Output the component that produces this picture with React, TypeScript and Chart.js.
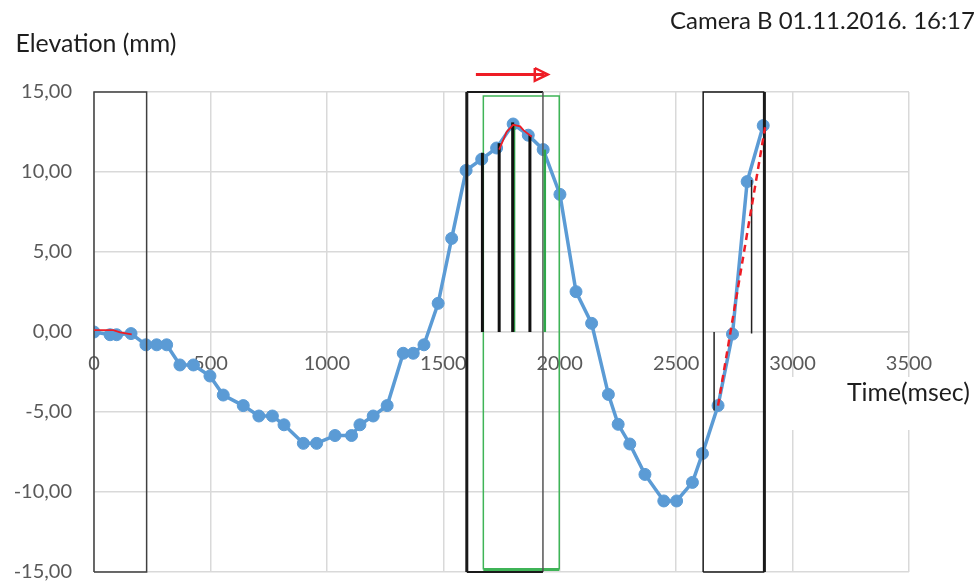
import { useEffect, useRef } from 'react';
import { Chart, registerables } from 'chart.js';

Chart.register(...registerables);

// ---- texts ----
const chartTitle = 'Camera B 01.11.2016. 16:17';
const yAxisTitle = 'Elevation (mm)';
const xAxisTitle = 'Time(msec)';

// ---- measured series ----
const timeMs = [0, 69, 97, 159, 223, 269, 312, 369, 427, 498, 555, 641, 708, 766, 816, 899, 956, 1035, 1106, 1142, 1199, 1259, 1328, 1371, 1417, 1478, 1536, 1598, 1665, 1729, 1800, 1865, 1929, 2001, 2070, 2137, 2209, 2251, 2301, 2366, 2447, 2502, 2570, 2613, 2680, 2742, 2805, 2874];
const elevationMm = [0, -0.17, -0.17, -0.1, -0.8, -0.8, -0.8, -2.06, -2.06, -2.75, -3.94, -4.6, -5.25, -5.25, -5.8, -6.96, -6.96, -6.47, -6.47, -5.8, -5.25, -4.6, -1.33, -1.33, -0.8, 1.79, 5.85, 10.1, 10.8, 11.5, 13.0, 12.3, 11.4, 8.6, 2.52, 0.54, -3.9, -5.77, -7.0, -8.9, -10.56, -10.56, -9.4, -7.6, -4.6, -0.13, 9.4, 12.9];

// ---- ticks ----
const xTickValues = [0, 500, 1000, 1500, 2000, 2500, 3000, 3500];
const xTickLabels = ['0', '500', '1000', '1500', '2000', '2500', '3000', '3500'];
const yTickValues = [-15, -10, -5, 0, 5, 10, 15];
const yTickLabels = ['-15,00', '-10,00', '-5,00', '0,00', '5,00', '10,00', '15,00'];

// ---- annotation overlays (data coordinates) ----
const boxStartMs = [0, 1601, 2616];
const boxEndMs = [226, 1928, 2879];
const boxTopMm = [15, 15, 15];
const boxBottomMm = [-15, -15, -15];
const greenBoxMs = [1672, 1998];
const greenBoxMm = [-14.85, 14.75];
const blackBarMs = [1668, 1740, 1798, 1872];
const blackBarTopMm = [11.2, 11.8, 13.1, 12.3];
const greenBarMs = [1804, 1936];
const greenBarTopMm = [13.0, 11.4];
const thinBarMs = [2663, 2824];
const thinBarFromMm = [0, 9.5];
const thinBarToMm = [-4.9, -0.1];
const redPath1Ms = [0, 83, 112, 162];
const redPath1Mm = [0.12, 0.12, -0.02, -0.15];
const redPath2Ms = [1740, 1772, 1800, 1830, 1845, 1880];
const redPath2Mm = [11.4, 12.5, 12.95, 12.85, 12.6, 12.2];
const redDashMs = [2680, 2882];
const redDashMm = [-4.6, 12.8];
const arrowMs = [1640, 1935];
const arrowMm = [16.1, 16.1];
const arrowHeadMs = [1893, 1949, 1893, 1893];
const arrowHeadMm = [16.5, 16.1, 15.7, 16.5];

const FONT = 'Lato, "Liberation Sans", sans-serif';
const BLUE = '#5b9bd5';
const RED = '#ee1c25';
const GREEN = '#3fb457';

const pts = (xs: number[], ys: number[]) => xs.map((x, i) => ({ x, y: ys[i] }));

const lineDs = (data: any[], color: string, width: number, order: number, extra: any = {}) => ({
  data,
  showLine: true,
  borderColor: color,
  backgroundColor: color,
  borderWidth: width,
  pointRadius: 0,
  pointHoverRadius: 0,
  tension: 0,
  clip: false,
  order,
  ...extra,
});

function buildDatasets() {
  const ds: any[] = [];
  // main series (drawn first, below everything)
  ds.push({
    data: pts(timeMs, elevationMm),
    showLine: true,
    borderColor: BLUE,
    backgroundColor: BLUE,
    borderWidth: 3.5,
    pointRadius: 6,
    pointBorderWidth: 1,
    pointBorderColor: BLUE,
    pointBackgroundColor: BLUE,
    pointHoverRadius: 6,
    tension: 0,
    order: 100,
  });
  // green rectangle
  const [gx0, gx1] = greenBoxMs;
  const [gy0, gy1] = greenBoxMm;
  ds.push(
    lineDs(
      [
        { x: gx0, y: gy0 },
        { x: gx0, y: gy1 },
        { x: gx1, y: gy1 },
        { x: gx1, y: gy0 },
        { x: gx0, y: gy0 },
      ],
      GREEN,
      1.5,
      50,
      {
        segment: {
          borderWidth: (c: any) => (c.p0DataIndex === 3 ? 3 : 1.5),
        },
      }
    )
  );
  // black rectangles
  boxStartMs.forEach((x0, i) => {
    const x1 = boxEndMs[i];
    const y0 = boxBottomMm[i];
    const y1 = boxTopMm[i];
    ds.push(
      lineDs(
        [
          { x: x0, y: y0 },
          { x: x0, y: y1 },
          { x: x1, y: y1 },
          { x: x1, y: y0 },
          { x: x0, y: y0 },
        ],
        i === 0 ? '#404040' : '#1a1a1a',
        i === 0 ? 1.5 : 2,
        40,
        {
          segment: {
            borderColor: (c: any) => (i === 1 && c.p0DataIndex === 2 ? '#555555' : i === 0 ? '#404040' : '#1a1a1a'),
            borderWidth: (c: any) => {
              if (i === 1) return c.p0DataIndex === 0 ? 3 : c.p0DataIndex === 2 ? 1.5 : 2;
              if (i === 2) return c.p0DataIndex === 2 ? 3 : 1.5;
              return 1.5;
            },
          },
        }
      )
    );
  });
  // vertical bars
  blackBarMs.forEach((x, i) => {
    ds.push(lineDs([{ x, y: 0 }, { x, y: blackBarTopMm[i] }], '#111111', 3, 30));
  });
  greenBarMs.forEach((x, i) => {
    ds.push(lineDs([{ x, y: 0 }, { x, y: greenBarTopMm[i] }], '#2fa84a', 2.5, 31));
  });
  thinBarMs.forEach((x, i) => {
    ds.push(lineDs([{ x, y: thinBarFromMm[i] }, { x, y: thinBarToMm[i] }], '#222222', 1.5, 30));
  });
  // red traces
  ds.push(lineDs(pts(redPath1Ms, redPath1Mm), RED, 1.8, 10));
  ds.push(lineDs(pts(redPath2Ms, redPath2Mm), RED, 1.8, 10));
  ds.push(lineDs(pts(redDashMs, redDashMm), RED, 2.5, 10, { borderDash: [7, 5] }));
  // red arrow (shaft + head)
  ds.push(lineDs(pts(arrowMs, arrowMm), RED, 3, 5));
  ds.push(lineDs(pts(arrowHeadMs, arrowHeadMm), RED, 2.5, 5, { borderJoinStyle: 'miter' }));
  return ds;
}

function fitText(ctx: CanvasRenderingContext2D, text: string, x: number, baseline: number, width: number) {
  const base = 24;
  ctx.font = `${base}px ${FONT}`;
  const w = ctx.measureText(text).width;
  const size = (base * width) / w;
  ctx.font = `${size}px ${FONT}`;
  ctx.textAlign = 'left';
  ctx.textBaseline = 'alphabetic';
  ctx.fillText(text, x, baseline);
}

const textPlugin = {
  id: 'chartTexts',
  afterDraw(chart: any) {
    const ctx: CanvasRenderingContext2D = chart.ctx;
    const area = chart.chartArea;
    ctx.save();
    // white background of the x-axis title box
    ctx.fillStyle = '#ffffff';
    ctx.fillRect(area.right - 143, 377, 979 - (area.right - 143), 53);
    ctx.fillStyle = '#1e1e1e';
    fitText(ctx, chartTitle, 670, 28.5, 305);
    fitText(ctx, yAxisTitle, 15.5, 51.5, 161);
    fitText(ctx, xAxisTitle, 847, 401, 123);
    ctx.restore();
  },
};

export default function App() {
  const ref = useRef<HTMLCanvasElement>(null);
  useEffect(() => {
    if (!ref.current) return;
    const chart = new Chart(ref.current, {
      type: 'scatter',
      data: { datasets: buildDatasets() },
      options: {
        responsive: false,
        animation: false,
        devicePixelRatio: 1,
        events: [],
        layout: { padding: { top: 92, bottom: 14, left: 0, right: 70 } },
        plugins: {
          legend: { display: false },
          tooltip: { enabled: false },
          title: { display: false },
        },
        scales: {
          x: {
            type: 'linear',
            position: { y: 0 } as any,
            min: 0,
            max: 3500,
            afterBuildTicks: (s: any) => {
              s.ticks = xTickValues.map((v) => ({ value: v }));
            },
            afterFit: (s: any) => {
              s.height = 0;
            },
            ticks: {
              autoSkip: false,
              maxRotation: 0,
              padding: 0,
              color: '#595959',
              font: { family: FONT, size: 20 },
              callback: (v: any) => {
                const i = xTickValues.indexOf(Number(v));
                return i >= 0 ? xTickLabels[i] : '';
              },
            },
            grid: {
              color: '#d9d9d9',
              lineWidth: 1.5,
              drawTicks: true,
              tickLength: 20,
              tickColor: 'rgba(0,0,0,0)',
            },
            border: { display: true, color: '#d9d9d9', width: 1.5 },
          },
          y: {
            type: 'linear',
            position: 'left',
            min: -15,
            max: 15,
            afterBuildTicks: (s: any) => {
              s.ticks = yTickValues.map((v) => ({ value: v }));
            },
            afterFit: (s: any) => {
              s.width = 94;
            },
            ticks: {
              autoSkip: false,
              padding: 0,
              color: '#595959',
              font: { family: FONT, size: 20 },
              callback: (v: any) => {
                const i = yTickValues.indexOf(Number(v));
                return i >= 0 ? yTickLabels[i] : '';
              },
            },
            grid: {
              color: '#d9d9d9',
              lineWidth: 1.5,
              drawTicks: true,
              tickLength: 22,
              tickColor: 'rgba(0,0,0,0)',
            },
            border: { display: false },
          },
        },
      },
      plugins: [textPlugin],
    } as any);
    return () => chart.destroy();
  }, []);
  return (
    <div style={{ position: 'fixed', left: 0, top: 0, width: 979, height: 586, background: '#ffffff' }}>
      <canvas ref={ref} width={979} height={586} style={{ display: 'block' }} />
    </div>
  );
}
